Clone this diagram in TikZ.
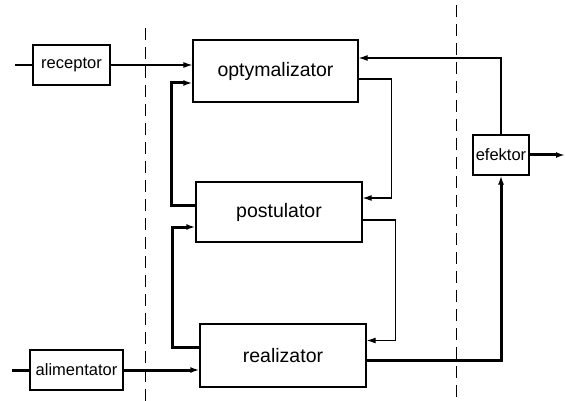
\documentclass[tikz,border=0pt]{standalone}
\usepackage{fontspec}
\setmainfont{Liberation Sans}
\usetikzlibrary{arrows.meta}

\begin{document}
\begin{tikzpicture}[
        x=1pt, y=-1pt,
        >={Latex[length=9pt,width=6pt]},
        blok/.style={draw, line width=1.3pt, inner sep=0pt, font=\fontsize{19.5}{22}\selectfont},
        maly/.style={draw, line width=1.1pt, inner sep=0pt, minimum height=40pt, font=\fontsize{16.5}{19}\selectfont},
        cienka/.style={line width=1.1pt},
        gruba/.style={line width=3pt},
        granica/.style={line width=0.9pt, dash pattern=on 12pt off 7pt}
    ]
    \useasboundingbox (0,0) rectangle (565,401);

    % Granice
    \draw[granica] (145,28) -- (145,401);
    \draw[granica] (456,5) -- (456,401);

    % Bloki
    \node[maly, minimum width=77pt] (rec) at (71.5,65) {receptor};
    \node[maly, minimum width=93pt] (ali) at (76.5,370) {alimentator};
    \node[maly, minimum width=56pt] (efk) at (501,155) {efektor};
    \node[blok, minimum width=165pt, minimum height=62pt] (opt) at (275.5,71) {optymalizator};
    \node[blok, minimum width=166pt, minimum height=60pt] (pst) at (279,212) {postulator};
    \node[blok, minimum width=166pt, minimum height=63pt] (rea) at (283,355.5) {realizator};

    \coordinate (wej) at (15,65);
    \coordinate (zas) at (12,370);
    \coordinate (wyj) at (565,155);

    % Cienkie połączenia
    \draw[cienka] (wej) -- (rec.west);
    \draw[cienka, ->] (rec.east) -- (rec.east -| opt.west);
    \draw[cienka, ->] (efk.north) |- ([yshift=13pt]opt.east);
    \draw[cienka, ->] ([yshift=-8pt]opt.east) -- ++(33,0) |- ([yshift=14pt]pst.east);
    \draw[cienka, ->] ([yshift=-8pt]pst.east) -- ++(33,0) |- ([yshift=15pt]rea.east);

    % Grube połączenia
    \draw[gruba] (zas) -- (ali.west);
    \draw[gruba, ->] (ali.east) -- (ali.east -| rea.west);
    \draw[gruba, ->] ([yshift=-5pt]rea.east) -| (efk.south);
    \draw[gruba, ->] (efk.east) -- (wyj);
    \draw[gruba, ->] ([yshift=8pt]rea.west) -- ++(-27,0) |- ([yshift=-15pt]pst.west);
    \draw[gruba, ->] ([yshift=7pt]pst.west) -- ++(-24,0) |- ([yshift=-12pt]opt.west);

\end{tikzpicture}
\end{document}
